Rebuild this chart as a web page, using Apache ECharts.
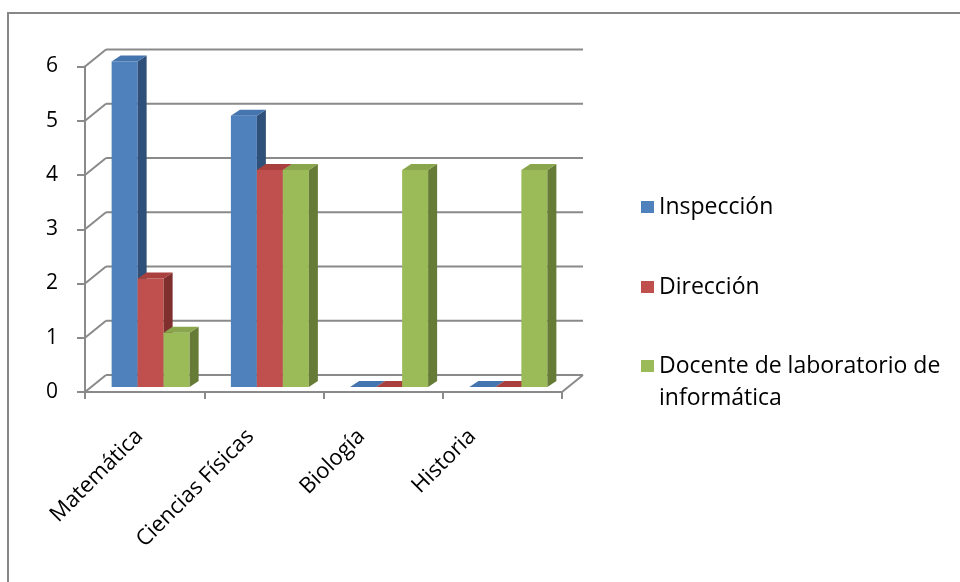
<!DOCTYPE html>
<html>
<head>
<meta charset="utf-8">
<script src="https://cdn.jsdelivr.net/npm/echarts@6/dist/echarts.min.js"></script>
<style>
html,body{margin:0;padding:0;background:#fff;}
#chart{width:960px;height:582px;}
</style>
</head>
<body>
<div id="chart"></div>
<script>
// ---- data ----
const categories = ['Matemática', 'Ciencias Físicas', 'Biología', 'Historia'];
const seriesNames = ['Inspección', 'Dirección', 'Docente de laboratorio de informática'];
const inspeccion = [6, 5, 0, 0];
const direccion = [2, 4, 0, 0];
const docente = [1, 4, 4, 4];
const yTicks = [0, 1, 2, 3, 4, 5, 6];

// ---- style ----
const FONT = 'Open Sans';
const AXIS_GRAY = '#8a8a8a';
const palettes = [
  { front: '#4F81BD', side: '#2F5079', top: '#4575AE' },
  { front: '#C0504D', side: '#7F302E', top: '#A9403D' },
  { front: '#9BBB59', side: '#657B36', top: '#89A64C' }
];
const WALL_DX = 21, WALL_DY = -17;   // depth of the plot box
const BAR_DX = 9, BAR_DY = -6;       // depth of each bar
const SHIFT_X = 6, SHIFT_Y = -5;     // bars sit in the middle of the depth
const BAR_RATIO = 0.218;             // bar width relative to category width

function makeBarRenderer(k) {
  return function (params, api) {
    const idx = api.value(0);
    const v = api.value(1);
    const catW = api.size([1, 0])[0];
    const bw = catW * BAR_RATIO;
    const top = api.coord([idx, v]);
    const base = api.coord([idx, 0]);
    const x0 = top[0] + SHIFT_X + (k - 1.5) * bw;
    const x1 = x0 + bw;
    const yT = top[1] + SHIFT_Y;
    const yB = base[1] + SHIFT_Y;
    const pal = palettes[k];
    const children = [];
    if (v > 0) {
      children.push({
        type: 'rect',
        shape: { x: x0, y: yT, width: bw, height: yB - yT },
        style: { fill: pal.front }
      });
      children.push({
        type: 'polygon',
        shape: { points: [[x1, yB], [x1 + BAR_DX, yB + BAR_DY], [x1 + BAR_DX, yT + BAR_DY], [x1, yT]] },
        style: { fill: pal.side }
      });
    }
    children.push({
      type: 'polygon',
      shape: { points: [[x0, yT], [x1, yT], [x1 + BAR_DX, yT + BAR_DY], [x0 + BAR_DX, yT + BAR_DY]] },
      style: { fill: pal.top }
    });
    return { type: 'group', children: children };
  };
}

function renderWall(params, api) {
  const v = api.value(1);
  const cs = params.coordSys;
  const p = api.coord([0, v]);
  const y = p[1];
  const xL = cs.x, xR = cs.x + cs.width;
  const st = { stroke: AXIS_GRAY, lineWidth: 2 };
  const children = [
    { type: 'line', shape: { x1: xL, y1: y, x2: xL + WALL_DX, y2: y + WALL_DY }, style: st },
    { type: 'line', shape: { x1: xL + WALL_DX, y1: y + WALL_DY, x2: xR + WALL_DX, y2: y + WALL_DY }, style: st }
  ];
  if (v === 0) {
    children.push({ type: 'line', shape: { x1: xR, y1: y, x2: xR + WALL_DX, y2: y + WALL_DY }, style: st });
  }
  return { type: 'group', children: children };
}

const values = [inspeccion, direccion, docente];

const option = {
  animation: false,
  backgroundColor: '#fff',
  textStyle: { fontFamily: FONT },
  graphic: [{
    type: 'rect',
    shape: { x: 8, y: 13, width: 1000, height: 620 },
    style: { fill: 'none', stroke: '#878787', lineWidth: 2 },
    silent: true, z: -1
  }],
  grid: [
    { left: 85, right: 960 - 562, top: 66.5, bottom: 190 },
    { left: 84, width: 444, top: 66.5, bottom: 190 }
  ],
  xAxis: [{
    type: 'category',
    gridIndex: 0,
    data: categories,
    boundaryGap: true,
    axisLine: { lineStyle: { color: AXIS_GRAY, width: 2 } },
    axisTick: { show: true, length: 7, interval: 0, lineStyle: { color: AXIS_GRAY, width: 2 } },
    axisLabel: { show: false },
    splitLine: { show: false }
  }, {
    type: 'category',
    gridIndex: 1,
    data: categories,
    axisLine: { show: false },
    axisTick: { show: false },
    axisLabel: { show: true, interval: 0, rotate: 45, margin: 41, fontFamily: FONT, fontSize: 22, color: '#000' },
    splitLine: { show: false }
  }],
  yAxis: [{
    type: 'value',
    gridIndex: 0,
    min: 0, max: 6, interval: 1,
    axisLine: { show: true, lineStyle: { color: AXIS_GRAY, width: 2 } },
    axisTick: { show: true, length: 8, lineStyle: { color: AXIS_GRAY, width: 2 } },
    axisLabel: { margin: 27, fontFamily: FONT, fontSize: 21, color: '#000', padding: [6, 0, 0, 0] },
    splitLine: { show: false }
  }, {
    type: 'value', gridIndex: 1, min: 0, max: 6, show: false
  }],
  legend: [{
    orient: 'vertical',
    left: 641, top: 195,
    padding: 0,
    itemGap: 56,
    itemWidth: 13, itemHeight: 12,
    icon: 'rect',
    selectedMode: false,
    data: [seriesNames[0], seriesNames[1]],
    textStyle: { fontFamily: FONT, fontSize: 23, color: '#000', lineHeight: 24 }
  }, {
    orient: 'vertical',
    left: 641, top: 318,
    padding: 0,
    itemWidth: 13, itemHeight: 12,
    icon: 'rect',
    selectedMode: false,
    data: [seriesNames[2]],
    formatter: function () { return ' \nDocente de laboratorio de\ninformática'; },
    textStyle: { fontFamily: FONT, fontSize: 23, color: '#000', lineHeight: 32 }
  }],
  series: [{
    type: 'custom',
    name: 'wall',
    xAxisIndex: 0, yAxisIndex: 0,
    renderItem: renderWall,
    data: yTicks.map(t => [0, t]),
    silent: true,
    z: 1
  }].concat(values.map((arr, k) => ({
    type: 'custom',
    name: seriesNames[k],
    xAxisIndex: 0, yAxisIndex: 0,
    itemStyle: { color: palettes[k].front },
    renderItem: makeBarRenderer(k),
    data: arr.map((v, i) => [i, v]),
    z: 2
  })))
};

const chart = echarts.init(document.getElementById('chart'), null, { renderer: 'canvas' });
chart.setOption(option);
</script>
</body>
</html>
